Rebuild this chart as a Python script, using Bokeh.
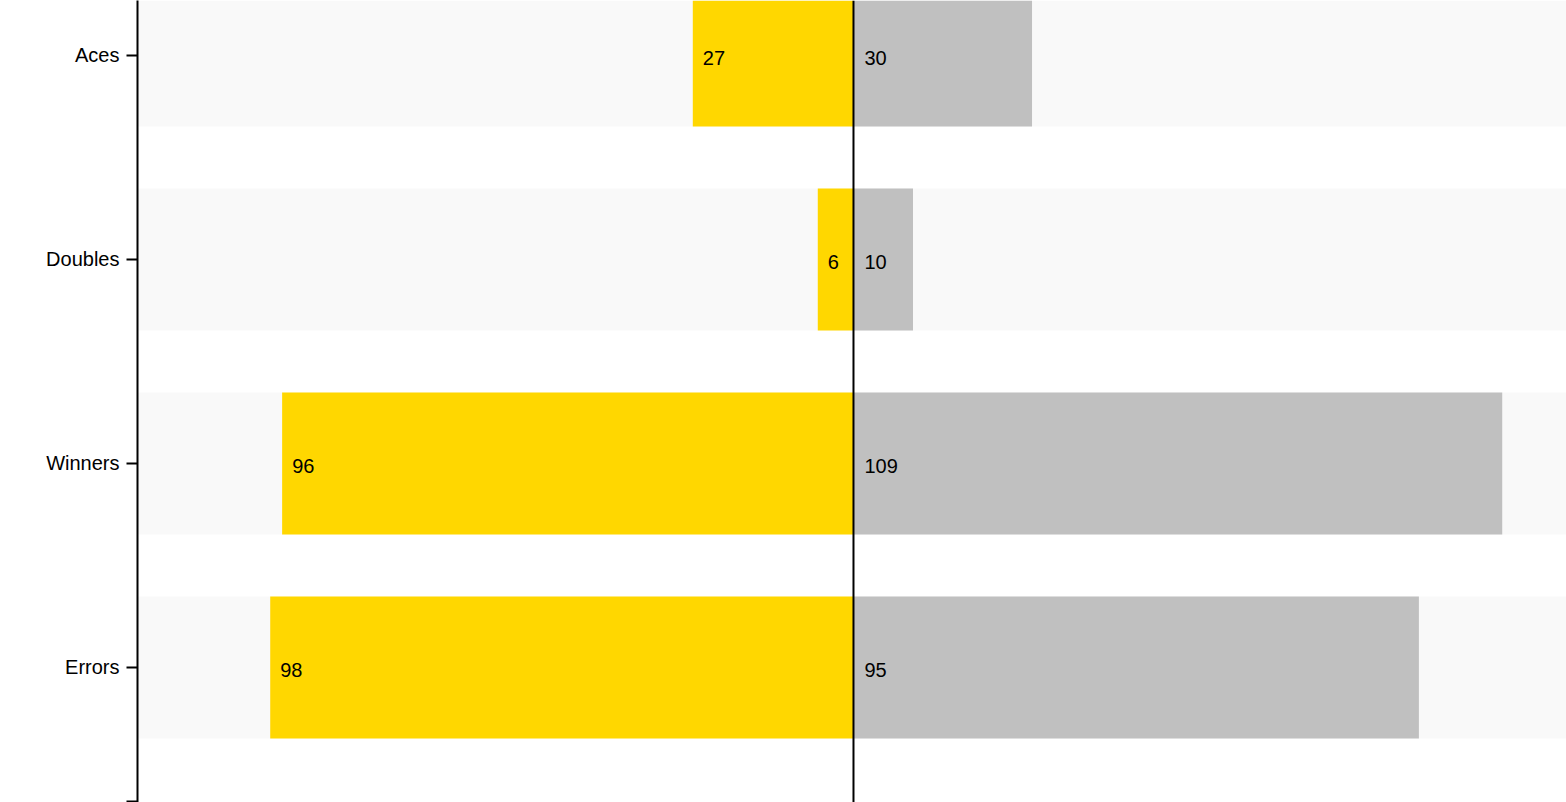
from bokeh.plotting import figure
from bokeh.models import Range1d, FixedTicker, Span, ColumnDataSource
from bokeh.core.properties import value
from bokeh.embed import file_html
from bokeh.resources import INLINE

categories = ["Aces", "Doubles", "Winners", "Errors"]
player_a = [27, 6, 96, 98]
player_b = [30, 10, 109, 95]

idx = list(range(len(categories)))
x_min, x_max = -120.3, 119.8
y_top, y_bottom = -0.2696, 3.6618
end_tick = 3.657

p = figure(width=1566, height=802, output_backend="svg", toolbar_location=None,
           x_range=Range1d(x_min, x_max), y_range=Range1d(y_bottom, y_top),
           min_border_left=137, min_border_right=0, min_border_top=0, min_border_bottom=0,
           x_axis_location=None)
p.outline_line_color = None
p.xgrid.visible = False
p.ygrid.visible = False
p.background_fill_color = "white"
p.border_fill_color = "white"

src = ColumnDataSource(dict(
    y=idx,
    a=[-v for v in player_a],
    b=player_b,
    a_txt=[str(v) for v in player_a],
    b_txt=[str(v) for v in player_b],
    band_l=[x_min] * len(idx),
    band_r=[x_max] * len(idx),
    zero=[0] * len(idx),
))

bh = 142 / 204
p.hbar(y="y", left="band_l", right="band_r", height=bh, source=src,
       fill_color="#f9f9f9", line_color=None)
p.hbar(y="y", left="a", right="zero", height=bh, source=src,
       fill_color="#FFD700", line_color=None)
p.hbar(y="y", left="zero", right="b", height=bh, source=src,
       fill_color="#C0C0C0", line_color=None)

p.add_layout(Span(location=0, dimension="height", line_color="black", line_width=2))

p.text(x="a", y="y", text="a_txt", source=src, x_offset=10, y_offset=3,
       text_align="left", text_baseline="middle", text_font=value("Liberation Sans"),
       text_font_size="20px", text_color="black")
p.text(x="zero", y="y", text="b_txt", source=src, x_offset=11, y_offset=3,
       text_align="left", text_baseline="middle", text_font=value("Liberation Sans"),
       text_font_size="20px", text_color="black")

ax = p.yaxis[0]
ax.ticker = FixedTicker(ticks=idx + [end_tick])
overrides = {i: c for i, c in zip(idx, categories)}
overrides[end_tick] = ""
ax.major_label_overrides = overrides
ax.minor_tick_line_color = None
ax.major_tick_out = 11
ax.major_tick_in = 0
ax.major_tick_line_width = 2
ax.major_tick_line_color = "black"
ax.axis_line_color = "black"
ax.axis_line_width = 2
ax.major_label_standoff = 7
ax.major_label_text_font = "Liberation Sans"
ax.major_label_text_font_size = "20px"
ax.major_label_text_color = "black"

open("out.html", "w").write(file_html(p, INLINE))
